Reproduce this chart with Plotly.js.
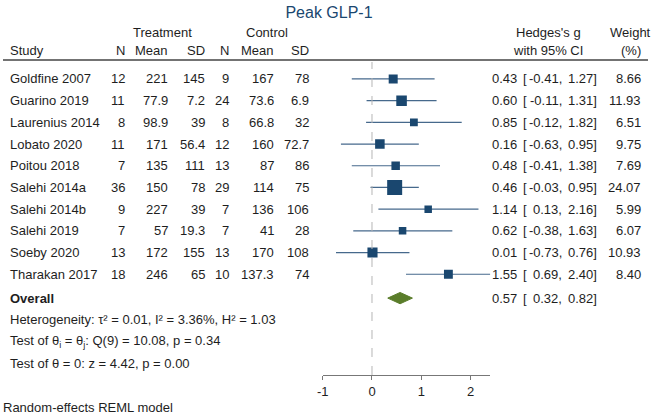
<!DOCTYPE html>
<html>
<head>
<meta charset="utf-8">
<script src="https://cdn.plot.ly/plotly-3.0.1.min.js"></script>
<style>
  html, body { margin: 0; padding: 0; background: #fff; }
  #chart { width: 658px; height: 417px; }
</style>
</head>
<body>
<div id="chart"></div>
<script>
// Forest plot: Peak GLP-1

const studies = ['Goldfine 2007', 'Guarino 2019', 'Laurenius 2014', 'Lobato 2020', 'Poitou 2018',
                 'Salehi 2014a', 'Salehi 2014b', 'Salehi 2019', 'Soeby 2020', 'Tharakan 2017'];
const nTreat    = [12, 11, 8, 11, 7, 36, 9, 7, 13, 18];
const meanTreat = [221, 77.9, 98.9, 171, 135, 150, 227, 57, 172, 246];
const sdTreat   = [145, 7.2, 39, 56.4, 111, 78, 39, 19.3, 155, 65];
const nCtrl     = [9, 24, 8, 12, 13, 29, 7, 7, 13, 10];
const meanCtrl  = [167, 73.6, 66.8, 160, 87, 114, 136, 41, 170, 137.3];
const sdCtrl    = [78, 6.9, 32, 72.7, 86, 75, 106, 28, 108, 74];
const hedgesG   = [0.43, 0.60, 0.85, 0.16, 0.48, 0.46, 1.14, 0.62, 0.01, 1.55];
const ciLow     = [-0.41, -0.11, -0.12, -0.63, -0.41, -0.03, 0.13, -0.38, -0.73, 0.69];
const ciHigh    = [1.27, 1.31, 1.82, 0.95, 1.38, 0.95, 2.16, 1.63, 0.76, 2.40];
const weights   = [8.66, 11.93, 6.51, 9.75, 7.69, 24.07, 5.99, 6.07, 10.93, 8.40];

const overall = { g: 0.57, lo: 0.32, hi: 0.82 };
const xTicks = [-1, 0, 1, 2];

const W = 658, H = 417;
const px = x => x / W;          // pixel -> paper x
const py = y => 1 - y / H;      // pixel -> paper y
const rows = studies.map((s, i) => i);
const overallRow = 10.1;

const navy = '#1a476f';
const ciColor = '#46698c';
const green = '#5a7d2a';
const txt = '#1e1e1e';
const FONT = 'Liberation Sans, Arial, sans-serif';

// CI whiskers
const ciX = [], ciY = [];
rows.forEach(i => { ciX.push(ciLow[i], ciHigh[i], null); ciY.push(i, i, null); });
const ciTrace = {
    x: ciX, y: ciY, type: 'scatter', mode: 'lines',
    line: { color: ciColor, width: 1.2 }, hoverinfo: 'skip'
};

// weighted squares (opacity set, otherwise plotly treats sized markers as bubbles)
const boxTrace = {
    x: hedgesG, y: rows, type: 'scatter', mode: 'markers',
    marker: {
        symbol: 'square', color: navy, opacity: 1,
        size: weights.map(w => 15 * Math.sqrt(w / 24.07)),
        line: { width: 0 }
    }
};

// overall diamond
const dh = 0.26;
const diamondTrace = {
    x: [overall.lo, overall.g, overall.hi, overall.g, overall.lo],
    y: [overallRow, overallRow - dh, overallRow, overallRow + dh, overallRow],
    type: 'scatter', mode: 'lines', fill: 'toself',
    fillcolor: green, line: { color: green, width: 1 }
};

const annotations = [];
function addText(text, xPix, row, anchor, opts = {}) {
    annotations.push(Object.assign({
        text: text, x: px(xPix), y: row, xref: 'paper', yref: 'y',
        xanchor: anchor, yanchor: 'middle', showarrow: false,
        font: { family: FONT, size: 13, color: txt }
    }, opts));
}

// headers
addText('Treatment', 162, -2.12, 'center');
addText('Control', 267, -2.12, 'center');
addText('Study', 8, -1.33, 'left');
[['N', 127], ['Mean', 170], ['SD', 207], ['N', 231], ['Mean', 276], ['SD', 311]]
    .forEach(([t, x]) => addText(t, x, -1.33, 'right'));
addText("Hedges's g", 548, -2.12, 'center');
addText('with 95% CI', 548, -1.33, 'center');
addText('Weight', 630, -2.12, 'center');
addText('(%)', 631, -1.33, 'center');

// table rows
rows.forEach(i => {
    addText(studies[i], 8, i, 'left');
    addText(String(nTreat[i]), 127, i, 'right');
    addText(String(meanTreat[i]), 170, i, 'right');
    addText(String(sdTreat[i]), 207, i, 'right');
    addText(String(nCtrl[i]), 231, i, 'right');
    addText(String(meanCtrl[i]), 276, i, 'right');
    addText(String(sdCtrl[i]), 311, i, 'right');
    addText(hedgesG[i].toFixed(2), 519, i, 'right');
    addText('[', 521, i, 'left');
    addText(ciLow[i].toFixed(2) + ',', 564, i, 'right');
    addText(ciHigh[i].toFixed(2) + ']', 599, i, 'right');
    addText(weights[i].toFixed(2), 643, i, 'right');
});

// overall
addText('<b>Overall</b>', 8, overallRow, 'left');
addText(overall.g.toFixed(2), 519, overallRow, 'right');
addText('[', 521, overallRow, 'left');
addText(overall.lo.toFixed(2) + ',', 564, overallRow, 'right');
addText(overall.hi.toFixed(2) + ']', 599, overallRow, 'right');

addText('Heterogeneity: τ² = 0.01, I² = 3.36%, H² = 1.03', 8, 11.1, 'left');
addText('Test of θ<sub>i</sub> = θ<sub>j</sub>: Q(9) = 10.08, p = 0.34', 8, 12.1, 'left');
addText('Test of θ = 0: z = 4.42, p = 0.00', 8, 13.1, 'left');
addText('Random-effects REML model', 1, 15.15, 'left');

const shapes = [
    // header rule
    { type: 'line', xref: 'paper', yref: 'paper', x0: px(3), x1: px(648), y0: py(60), y1: py(60),
      line: { color: '#444', width: 1.5 } },
    // no-effect line
    { type: 'line', xref: 'x', yref: 'paper', x0: 0, x1: 0, y0: py(375), y1: py(62),
      line: { color: '#b5b5b5', width: 1, dash: 'dash' } }
];

const layout = {
    width: W, height: H,
    margin: { t: 0, r: 0, b: 0, l: 0 },
    paper_bgcolor: '#fff', plot_bgcolor: 'rgba(0,0,0,0)',
    showlegend: false,
    font: { family: FONT, size: 13, color: txt },
    title: { text: 'Peak GLP-1', x: 0.5, xanchor: 'center', y: py(12), yanchor: 'middle',
             font: { family: FONT, size: 16, color: navy } },
    xaxis: {
        range: [-1, 2.4], domain: [px(322.7), px(490.3)],
        anchor: 'free', position: py(375),
        showgrid: false, zeroline: false, showline: true, linecolor: '#777', linewidth: 1,
        ticks: 'outside', ticklen: 4, tickcolor: '#777',
        tickvals: xTicks, ticktext: xTicks.map(String),
        tickfont: { family: FONT, size: 13, color: txt }
    },
    yaxis: {
        range: [15.58, -3.64], domain: [0, 1], visible: false,
        showgrid: false, zeroline: false
    },
    shapes: shapes,
    annotations: annotations
};

Plotly.newPlot('chart', [ciTrace, boxTrace, diamondTrace], layout, { displayModeBar: false, staticPlot: true });
</script>
</body>
</html>
